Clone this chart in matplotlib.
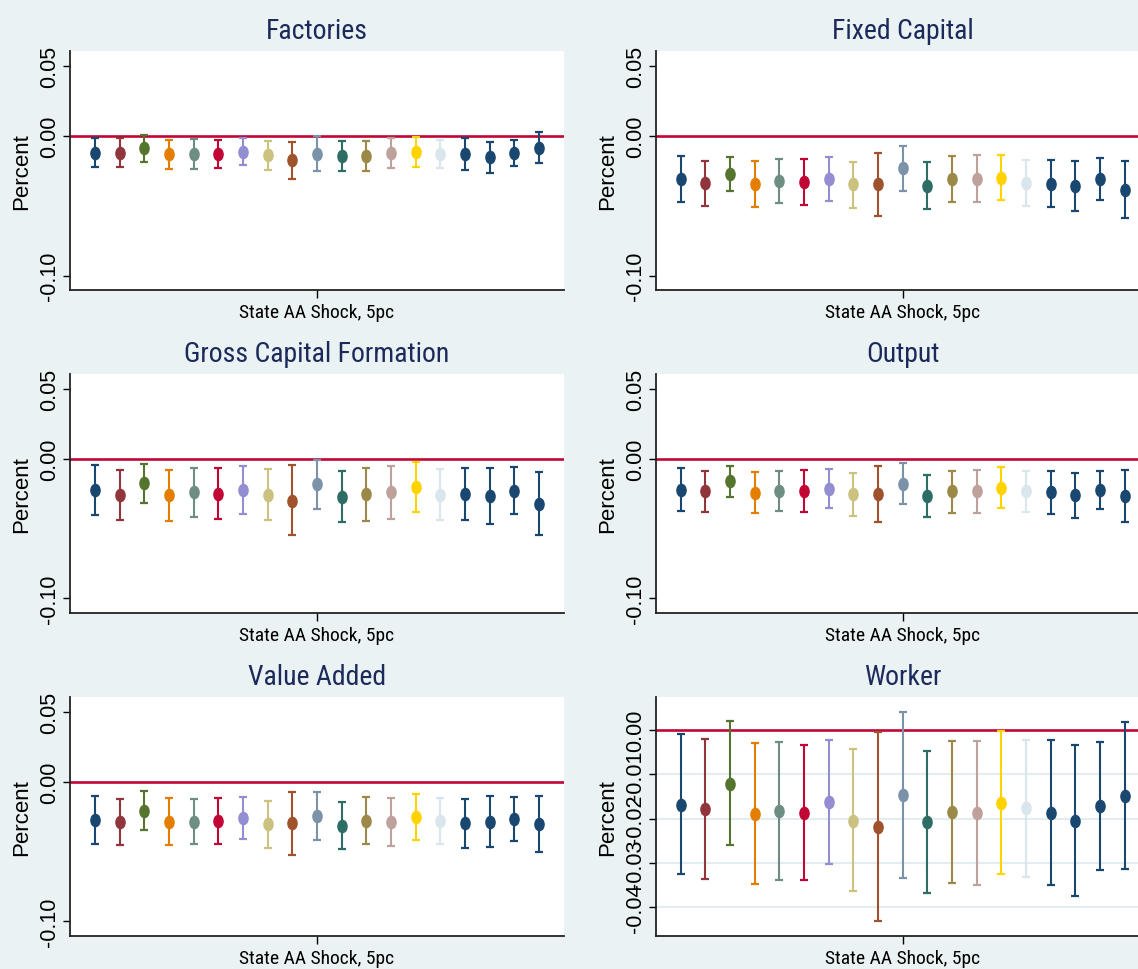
import matplotlib
matplotlib.use("Agg")
import matplotlib.pyplot as plt
from matplotlib.path import Path
from matplotlib.transforms import Affine2D
from matplotlib import font_manager as fm

# ---------------- data ----------------
titles = ["Factories", "Fixed Capital", "Gross Capital Formation", "Output", "Value Added", "Worker"]
xlabel_text = "State AA Shock, 5pc"

factories_coef = [-0.0120, -0.0120, -0.0088, -0.0131, -0.0129, -0.0129, -0.0115, -0.0139, -0.0174, -0.0127,
                  -0.0141, -0.0143, -0.0124, -0.0115, -0.0129, -0.0129, -0.0153, -0.0122, -0.0084]
factories_hi = [-0.0017, -0.0017, 0.0010, -0.0026, -0.0022, -0.0026, -0.0017, -0.0033, -0.0041, 0.0000,
                -0.0036, -0.0036, -0.0017, -0.0005, -0.0026, -0.0017, -0.0041, -0.0029, 0.0026]
factories_lo = [-0.0222, -0.0220, -0.0184, -0.0237, -0.0237, -0.0232, -0.0210, -0.0244, -0.0308, -0.0251,
                -0.0251, -0.0253, -0.0232, -0.0220, -0.0232, -0.0241, -0.0265, -0.0213, -0.0191]

fixcap_coef = [-0.0311, -0.0337, -0.0270, -0.0342, -0.0323, -0.0327, -0.0308, -0.0347, -0.0347, -0.0232,
               -0.0356, -0.0311, -0.0306, -0.0299, -0.0335, -0.0342, -0.0359, -0.0308, -0.0387]
fixcap_hi = [-0.0143, -0.0177, -0.0148, -0.0177, -0.0163, -0.0167, -0.0148, -0.0184, -0.0124, -0.0069,
             -0.0189, -0.0143, -0.0134, -0.0134, -0.0170, -0.0172, -0.0177, -0.0155, -0.0182]
fixcap_lo = [-0.0471, -0.0500, -0.0392, -0.0507, -0.0480, -0.0492, -0.0464, -0.0514, -0.0571, -0.0394,
             -0.0521, -0.0476, -0.0474, -0.0457, -0.0500, -0.0507, -0.0538, -0.0461, -0.0590]

gcf_coef = [-0.0225, -0.0258, -0.0175, -0.0261, -0.0239, -0.0249, -0.0220, -0.0256, -0.0299, -0.0182,
            -0.0273, -0.0254, -0.0239, -0.0203, -0.0258, -0.0249, -0.0266, -0.0230, -0.0321]
gcf_hi = [-0.0046, -0.0079, -0.0034, -0.0077, -0.0065, -0.0069, -0.0050, -0.0074, -0.0046, -0.0005,
          -0.0084, -0.0067, -0.0050, -0.0024, -0.0074, -0.0065, -0.0065, -0.0057, -0.0093]
gcf_lo = [-0.0402, -0.0440, -0.0316, -0.0445, -0.0416, -0.0428, -0.0392, -0.0440, -0.0548, -0.0361,
          -0.0455, -0.0443, -0.0428, -0.0380, -0.0440, -0.0435, -0.0464, -0.0397, -0.0548]

output_coef = [-0.0220, -0.0234, -0.0160, -0.0242, -0.0230, -0.0230, -0.0215, -0.0254, -0.0249, -0.0177,
               -0.0263, -0.0234, -0.0234, -0.0206, -0.0234, -0.0239, -0.0261, -0.0220, -0.0268]
output_hi = [-0.0067, -0.0089, -0.0048, -0.0093, -0.0086, -0.0079, -0.0072, -0.0105, -0.0050, -0.0033,
             -0.0115, -0.0084, -0.0081, -0.0060, -0.0089, -0.0089, -0.0103, -0.0084, -0.0081]
output_lo = [-0.0371, -0.0383, -0.0273, -0.0390, -0.0376, -0.0380, -0.0354, -0.0407, -0.0452, -0.0323,
             -0.0419, -0.0385, -0.0388, -0.0354, -0.0383, -0.0392, -0.0426, -0.0361, -0.0452]

va_coef = [-0.0277, -0.0289, -0.0209, -0.0287, -0.0287, -0.0282, -0.0258, -0.0303, -0.0296, -0.0244,
           -0.0318, -0.0280, -0.0287, -0.0251, -0.0284, -0.0299, -0.0287, -0.0270, -0.0303]
va_hi = [-0.0102, -0.0123, -0.0066, -0.0118, -0.0123, -0.0114, -0.0107, -0.0137, -0.0071, -0.0071,
         -0.0145, -0.0109, -0.0114, -0.0088, -0.0114, -0.0125, -0.0102, -0.0109, -0.0102]
va_lo = [-0.0448, -0.0457, -0.0346, -0.0455, -0.0448, -0.0450, -0.0410, -0.0472, -0.0524, -0.0420,
         -0.0486, -0.0446, -0.0462, -0.0420, -0.0450, -0.0472, -0.0469, -0.0427, -0.0505]

worker_coef = [-0.01684, -0.01790, -0.01210, -0.01895, -0.01835, -0.01865, -0.01624, -0.02045, -0.02188, -0.01459,
               -0.02075, -0.01850, -0.01880, -0.01647, -0.01767, -0.01865, -0.02045, -0.01722, -0.01481]
worker_hi = [-0.00098, -0.00203, 0.00203, -0.00300, -0.00270, -0.00338, -0.00218, -0.00436, -0.00045, 0.00414,
             -0.00474, -0.00248, -0.00248, -0.00023, -0.00218, -0.00226, -0.00346, -0.00278, 0.00188]
worker_lo = [-0.03260, -0.03368, -0.02600, -0.03474, -0.03390, -0.03376, -0.03015, -0.03639, -0.04308, -0.03331,
             -0.03669, -0.03444, -0.03504, -0.03248, -0.03324, -0.03497, -0.03745, -0.03166, -0.03136]

standard_ticks = [0.05, 0.00, -0.10]
standard_ticklabels = ["0.05", "0.00", "-0.10"]
worker_ticks = [0.00, -0.01, -0.02, -0.03, -0.04]
worker_ticklabels = ["0.00", "-0.01", "-0.02", "-0.03", "-0.04"]

colors = ["#1a476f", "#90353b", "#55752f", "#e37e00", "#6e8e84", "#c10534", "#938dd2", "#cac27e",
          "#a0522d", "#7b92a8", "#2d6d66", "#9c8847", "#bfa19c", "#ffd200", "#d9e6eb",
          "#1a476f", "#1a476f", "#1a476f", "#1a476f"]

panels = [
    (factories_coef, factories_lo, factories_hi),
    (fixcap_coef, fixcap_lo, fixcap_hi),
    (gcf_coef, gcf_lo, gcf_hi),
    (output_coef, output_lo, output_hi),
    (va_coef, va_lo, va_hi),
    (worker_coef, worker_lo, worker_hi),
]

# ---------------- fonts ----------------
def find_condensed():
    prefs = ["Liberation Sans Narrow", "Roboto Condensed", "Open Sans Condensed", "Noto Sans Condensed",
             "Arial Narrow", "DejaVu Sans Condensed"]
    fl = fm.fontManager.ttflist
    def is_regular(f):
        return f.style == "normal" and f.weight in (400, "normal", "regular", "book")
    for p in prefs:
        for f in fl:
            if f.name == p and is_regular(f):
                return fm.FontProperties(fname=f.fname), p
    for f in fl:
        if f.stretch in ("condensed", "semi-condensed") and is_regular(f) and "Noto Sans" in f.name \
                and "CJK" not in f.name and "Mono" not in f.name:
            return fm.FontProperties(fname=f.fname), f.name
    for f in fl:
        if ("Condensed" in f.fname or "Narrow" in f.fname) and "Bold" not in f.fname \
                and "Italic" not in f.fname and "Oblique" not in f.fname:
            return fm.FontProperties(fname=f.fname), f.fname
    return None, None

cond_fp, cond_name = find_condensed()
if cond_fp is not None:
    TITLE_SIZE, XTICK_SIZE = 20, 14
else:
    cond_fp = fm.FontProperties(family=["Liberation Sans", "DejaVu Sans"])
    TITLE_SIZE, XTICK_SIZE = 18, 12.5

# ---------------- style ----------------
W, H = 1138, 970
DPI = 100
BG = "#eaf2f3"
TITLE_COLOR = "#1b2a5a"
REGULAR = ["Liberation Sans", "Arial", "DejaVu Sans"]

ellipse = Path.unit_circle().transformed(Affine2D().scale(0.75, 1.0))

fig = plt.figure(figsize=(W / DPI, H / DPI), dpi=DPI, facecolor=BG)

col_left = [70.2, 655.9]
ax_w = 493.4
row_top = [52.3, 375.1, 697.9]
ax_h = 238.7

for i, (coef, lo, hi) in enumerate(panels):
    r, c = divmod(i, 2)
    left = col_left[c] / W
    bottom = 1 - (row_top[r] + ax_h) / H
    ax = fig.add_axes([left, bottom, ax_w / W, ax_h / H])
    ax.set_facecolor("white")
    xs = list(range(1, len(coef) + 1))
    is_worker = titles[i] == "Worker"

    if is_worker:
        for t in worker_ticks[1:]:
            ax.axhline(t, color="#e3ecef", lw=1.5, zorder=1)
    ax.axhline(0, color="#c10534", lw=1.9, zorder=1.5)

    for x, m, l, h, col in zip(xs, coef, lo, hi, colors):
        ax.errorbar([x], [m], yerr=[[m - l], [h - m]], fmt="none", ecolor=col,
                    elinewidth=1.5, capsize=2.8, capthick=1.6, zorder=3)
        ax.plot([x], [m], marker=ellipse, markersize=8.8, color=col, mec=col,
                linestyle="none", zorder=4)

    ax.set_xlim(0, 20)
    if is_worker:
        ax.set_ylim(-0.0464, 0.0075)
        ax.set_yticks(worker_ticks)
        ax.set_yticklabels(worker_ticklabels)
    else:
        ax.set_ylim(-0.1103, 0.0607)
        ax.set_yticks(standard_ticks)
        ax.set_yticklabels(standard_ticklabels)
    ax.set_xticks([10])
    ax.set_xticklabels([xlabel_text], fontproperties=cond_fp, fontsize=XTICK_SIZE)

    for lab in ax.get_yticklabels():
        lab.set_rotation(90)
        lab.set_va("center")
        lab.set_fontfamily(REGULAR)
        lab.set_fontsize(15.5)

    ax.tick_params(axis="y", direction="out", length=5, width=1.0, pad=2, colors="black")
    ax.tick_params(axis="x", direction="out", length=5.8, width=1.0, pad=3.5, colors="black")

    for s in ("top", "right"):
        ax.spines[s].set_visible(False)
    for s in ("left", "bottom"):
        ax.spines[s].set_color("#222222")
        ax.spines[s].set_linewidth(1.3)

    ax.set_title(titles[i], fontproperties=cond_fp, fontsize=TITLE_SIZE, color=TITLE_COLOR, pad=9.4)
    ax.set_ylabel("Percent", fontfamily=REGULAR, fontsize=16, color="black")
    ax.yaxis.set_label_coords(-0.077, 0.5)

fig.savefig("out.png", dpi=DPI, facecolor=BG)
